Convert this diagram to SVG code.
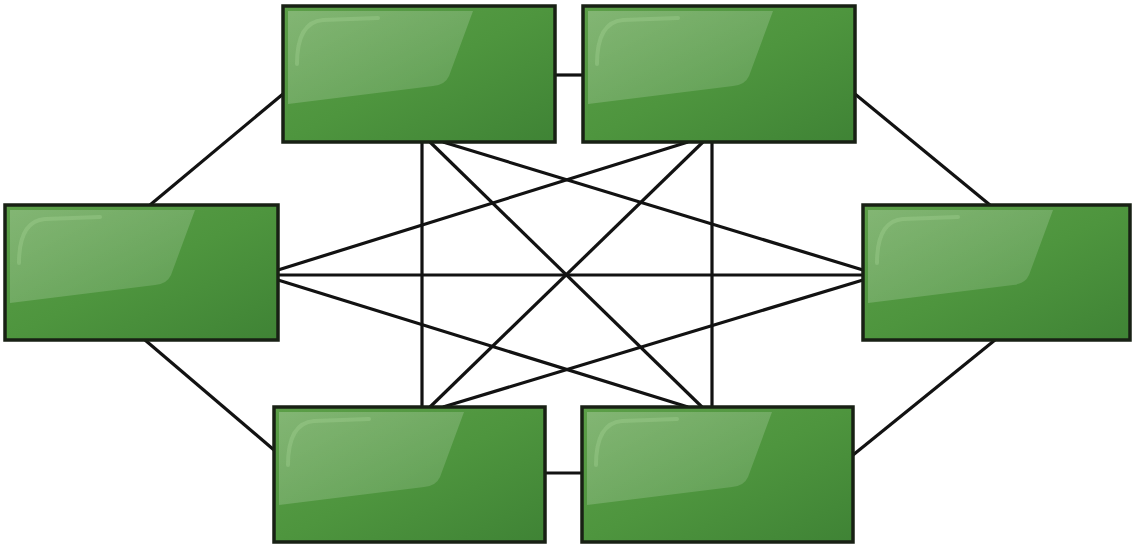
<svg xmlns="http://www.w3.org/2000/svg" width="1132" height="545" viewBox="0 0 1132 545">
  <style>
    .box { fill: url(#boxGrad); stroke: #182014; stroke-width: 3.5; }
    .gloss { fill: url(#glossGrad); }
    .shine { fill: none; stroke: #a6d494; stroke-width: 4; stroke-opacity: 0.35; stroke-linecap: round; }
    .edge { stroke: #121212; stroke-width: 3.2; fill: none; stroke-linecap: butt; }
  </style>
  <defs>
    <linearGradient id="boxGrad" x1="0" y1="0" x2="1" y2="1">
      <stop offset="0" stop-color="#5c9f48"/>
      <stop offset="0.5" stop-color="#4e953e"/>
      <stop offset="1" stop-color="#3f8335"/>
    </linearGradient>
    <linearGradient id="glossGrad" x1="0" y1="0" x2="1" y2="1">
      <stop offset="0" stop-color="#ffffff" stop-opacity="0.24"/>
      <stop offset="1" stop-color="#ffffff" stop-opacity="0.12"/>
    </linearGradient>
    <g id="nodeShape">
      <path class="gloss" d="M5,5 L190,5 L166,70 Q162,79 150,80 L5,98 Z"/>
      <path class="shine" d="M14,58 Q14,16 40,14 L95,12"/>
    </g>
  </defs>
  <rect width="1132" height="545" fill="#ffffff"/>

  <g id="connectors">
    <line class="edge" x1="555" y1="75" x2="583" y2="75"/>
    <line class="edge" x1="545" y1="473" x2="582" y2="473"/>
    <line class="edge" x1="283" y1="94" x2="150" y2="205"/>
    <line class="edge" x1="145" y1="340" x2="274" y2="450"/>
    <line class="edge" x1="855" y1="94" x2="990" y2="205"/>
    <line class="edge" x1="995" y1="340" x2="853" y2="455"/>
    <line class="edge" x1="422" y1="142" x2="422" y2="407"/>
    <line class="edge" x1="712" y1="142" x2="712" y2="407"/>
    <line class="edge" x1="278" y1="275" x2="863" y2="275"/>
    <line class="edge" x1="430" y1="142" x2="702" y2="407"/>
    <line class="edge" x1="703" y1="142" x2="430" y2="407"/>
    <line class="edge" x1="278" y1="270" x2="688" y2="142"/>
    <line class="edge" x1="443" y1="142" x2="863" y2="270"/>
    <line class="edge" x1="278" y1="280" x2="688" y2="407"/>
    <line class="edge" x1="863" y1="280" x2="443" y2="407"/>
  </g>

  <g id="node-top-left" transform="translate(283,6)">
    <rect class="box" x="0" y="0" width="272" height="136"/>
    <use href="#nodeShape"/>
  </g>
  <g id="node-top-right" transform="translate(583,6)">
    <rect class="box" x="0" y="0" width="272" height="136"/>
    <use href="#nodeShape"/>
  </g>
  <g id="node-left" transform="translate(5,205)">
    <rect class="box" x="0" y="0" width="273" height="135"/>
    <use href="#nodeShape"/>
  </g>
  <g id="node-right" transform="translate(863,205)">
    <rect class="box" x="0" y="0" width="267" height="135"/>
    <use href="#nodeShape"/>
  </g>
  <g id="node-bottom-left" transform="translate(274,407)">
    <rect class="box" x="0" y="0" width="271" height="135"/>
    <use href="#nodeShape"/>
  </g>
  <g id="node-bottom-right" transform="translate(582,407)">
    <rect class="box" x="0" y="0" width="271" height="135"/>
    <use href="#nodeShape"/>
  </g>
</svg>
